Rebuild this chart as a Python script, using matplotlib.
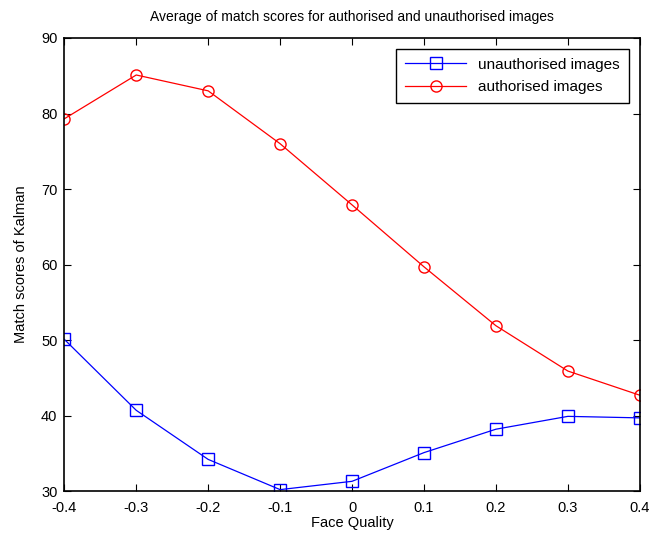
import matplotlib
matplotlib.use("Agg")
import matplotlib.pyplot as plt

plt.rcParams['font.family'] = ['Liberation Sans', 'DejaVu Sans']

# face quality levels and average match scores
face_quality = [-0.4, -0.3, -0.2, -0.1, 0.0, 0.1, 0.2, 0.3, 0.4]
unauthorised = [50.1, 40.7, 34.2, 30.2, 31.3, 35.1, 38.2, 39.9, 39.7]
authorised = [79.3, 85.1, 83.0, 76.0, 67.9, 59.7, 51.9, 45.9, 42.7]
x_ticks = [-0.4, -0.3, -0.2, -0.1, 0, 0.1, 0.2, 0.3, 0.4]
x_tick_labels = ['-0.4', '-0.3', '-0.2', '-0.1', '0', '0.1', '0.2', '0.3', '0.4']
y_ticks = [30, 40, 50, 60, 70, 80, 90]

fig = plt.figure(figsize=(6.63, 5.35), dpi=100)
ax = fig.add_axes([0.097, 0.082, 0.868, 0.847])

ax.plot(face_quality, unauthorised, color='blue', marker='s', markersize=8,
        markerfacecolor='none', markeredgewidth=1.0, linewidth=0.9,
        label='unauthorised images')
ax.plot(face_quality, authorised, color='red', marker='o', markersize=8,
        markerfacecolor='none', markeredgewidth=1.0, linewidth=0.9,
        label='authorised images')

ax.set_xlim(-0.4, 0.4)
ax.set_ylim(30, 90)
ax.set_xticks(x_ticks)
ax.set_xticklabels(x_tick_labels)
ax.set_yticks(y_ticks)
ax.tick_params(direction='in', length=5, labelsize=10.5, top=True, right=True)
ax.tick_params(axis='x', pad=7)
ax.tick_params(axis='y', pad=5)
for s in ax.spines.values():
    s.set_linewidth(1.2)

ax.set_xlabel('Face Quality', fontsize=10.5, labelpad=1)
ax.set_ylabel('Match scores of Kalman', fontsize=10.5, labelpad=9)
ax.set_title('Average of match scores for authorised and unauthorised images',
             fontsize=10, pad=12)

leg = ax.legend(loc='upper right', fontsize=11, fancybox=False, framealpha=1,
                edgecolor='black', handlelength=4, borderpad=0.6,
                labelspacing=0.55, borderaxespad=0.7)
leg.get_frame().set_linewidth(1.0)

fig.savefig('out.png', dpi=100)
